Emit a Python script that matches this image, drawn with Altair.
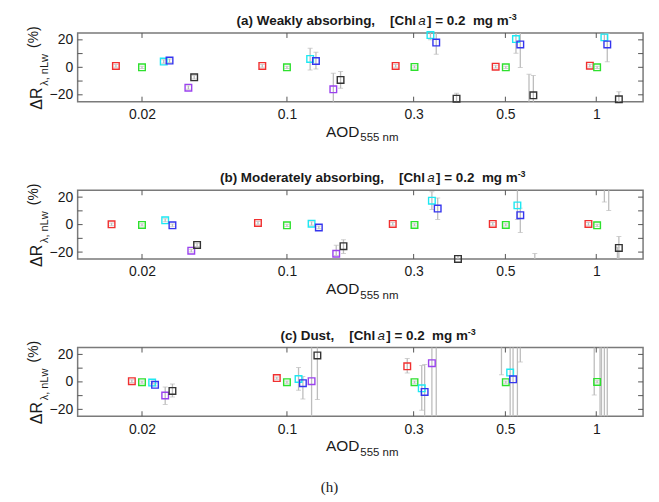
import altair as alt
import pandas as pd

# ---------------- data ----------------
SERIES = ["red", "green", "cyan", "blue", "purple", "black"]
COLORS = ["#f03030", "#2ee02e", "#1ee8f2", "#3535ee", "#9a42ee", "#333333"]

TICK_POS = [0.0, 1.0, 1.874, 2.507, 3.134]          # axis units of the category ticks
TICK_LABELS = ["0.02", "0.1", "0.3", "0.5", "1"]
Y_TICKS = [-20, -10, 0, 10, 20]
X_DOMAIN = [-0.444, 3.457]
Y_DOMAIN = [-25, 25]

# panel (a) weakly absorbing ; rows = series, columns = AOD groups
A_X = [[-0.18, 0.83, 1.75, 2.44, 3.09],
       [0.00, 1.00, 1.88, 2.51, 3.14],
       [0.15, 1.16, 1.99, 2.58, 3.19],
       [0.19, 1.20, 2.03, 2.61, 3.21],
       [0.32, 1.32, None, 2.67, None],
       [0.36, 1.37, 2.17, 2.70, 3.29]]
A_Y = [[1.0, 1.0, 1.0, 0.5, 1.2],
       [0.0, 0.0, 0.3, 0.0, 0.0],
       [4.2, 6.1, 23.5, 20.6, 21.8],
       [4.9, 4.6, 18.0, 16.7, 16.7],
       [-14.8, -16.0, None, -32.0, None],
       [-7.3, -9.2, -22.8, -20.4, -23.3]]
A_LO = [[0.0, 0.0, 0.0, -0.5, 0.2],
        [-0.8, -0.8, -0.5, -0.8, -0.8],
        [3.0, -1.9, 20.0, 10.2, 19.5],
        [3.5, -1.2, 9.5, -0.2, 4.1],
        [-16.0, -30.0, None, -40.0, None],
        [-8.5, -15.3, -26.0, -30.0, -30.0]]
A_HI = [[2.0, 2.0, 2.0, 1.5, 2.2],
        [0.8, 0.8, 1.1, 0.8, 0.8],
        [5.5, 13.8, 27.0, 27.0, 24.0],
        [6.0, 10.9, 27.0, 27.0, 24.7],
        [-13.5, -4.4, None, -5.1, None],
        [-6.0, -3.1, -18.9, -6.0, -17.7]]

# panel (b) moderately absorbing
B_X = [[-0.21, 0.80, 1.73, 2.42, 3.08],
       [0.00, 1.00, 1.88, 2.51, 3.14],
       [0.16, 1.17, 2.00, 2.59, 3.19],
       [0.21, 1.22, 2.04, 2.61, 3.22],
       [0.34, 1.34, None, 2.71, 3.28],
       [0.38, 1.39, 2.18, None, 3.29]]
B_Y = [[0.2, 1.2, 0.5, 0.5, 0.5],
       [-0.2, -0.5, -0.2, -0.2, -0.5],
       [3.1, 0.7, 17.4, 14.0, 32.0],
       [-0.5, -2.1, 11.7, 6.9, 30.0],
       [-19.0, -21.2, None, -32.0, -35.0],
       [-14.8, -15.7, -25.0, None, -17.0]]
B_LO = [[-0.8, 0.2, -0.5, -0.5, -0.5],
        [-1.0, -1.3, -1.0, -1.0, -1.3],
        [2.0, -0.5, 11.0, 3.8, 16.4],
        [-1.5, -3.0, 3.8, -5.7, 10.2],
        [-20.0, -22.5, None, -40.0, -40.0],
        [-16.0, -21.0, -27.0, None, -40.0]]
B_HI = [[1.2, 2.2, 1.5, 1.5, 1.5],
        [0.6, 0.3, 0.6, 0.6, 0.3],
        [4.2, 2.0, 24.0, 28.0, 40.0],
        [0.5, -1.0, 19.3, 12.0, 40.0],
        [-18.0, -15.0, None, -21.0, -16.4],
        [-13.5, -11.0, -22.4, None, -8.6]]

# panel (c) dust
C_X = [[-0.07, 0.93, 1.83, 2.48, 3.12],
       [0.00, 1.00, 1.88, 2.51, 3.14],
       [0.07, 1.08, 1.93, 2.54, 3.16],
       [0.09, 1.11, 1.95, 2.56, 3.17],
       [0.16, 1.17, 2.00, 2.59, 3.19],
       [0.21, 1.21, 2.03, 2.61, 3.21]]
C_Y = [[0.5, 2.8, 11.3, 32.0, 32.0],
       [-0.2, -0.2, -0.2, -0.2, 0.0],
       [-0.5, 2.1, -4.7, 6.8, 40.0],
       [-2.1, -0.9, -7.3, 1.9, 35.0],
       [-9.9, 0.5, 13.6, 40.0, 40.0],
       [-6.6, 19.3, 40.0, 40.0, 40.0]]
C_LO = [[-0.5, 2.0, 6.4, 5.2, -9.6],
        [-1.0, -1.0, -1.0, -1.0, -0.8],
        [-1.5, -6.1, -20.7, -40.0, -60.0],
        [-3.0, -12.5, -30.0, -40.0, -40.0],
        [-16.5, -40.0, -40.0, -40.0, -40.0],
        [-11.0, -12.9, -40.0, 14.4, -40.0]]
C_HI = [[1.5, 3.5, 17.0, 45.0, 45.0],
        [0.6, 0.6, 0.6, 0.6, 0.8],
        [0.5, 10.4, 12.0, 40.0, 60.0],
        [-1.0, 4.0, 12.7, 40.0, 60.0],
        [-3.8, 40.0, 40.0, 60.0, 60.0],
        [-1.5, 40.0, 60.0, 60.0, 60.0]]

TITLE_LEFT = ["(a) Weakly absorbing,\u00a0\u00a0\u00a0\u00a0[Chl",
              "(b) Moderately absorbing,\u00a0\u00a0\u00a0\u00a0[Chl",
              "(c) Dust,\u00a0\u00a0\u00a0\u00a0[Chl"]
TITLE_ITALIC = "a"
TITLE_RIGHT = "] = 0.2\u00a0 mg m"
TITLE_SUP = "-3"
TITLE_A_POS = [346, 355, 305]
Y_TITLE = ["\u0394R", "\u03bb, nLw", "(%)"]
X_TITLE = ["AOD", "555 nm"]
FIG_LABEL = "(h)"

# ---------------- styling ----------------
W, H = 568, 69
FONT = "Liberation Sans"
ERR = "#bdbdbd"
TXT = "#1a1a1a"


def frame(X, Y, LO, HI):
    rows = []
    for s, xs_, ys_, los, his in zip(SERIES, X, Y, LO, HI):
        for x, y, lo, hi in zip(xs_, ys_, los, his):
            if x is None:
                continue
            rows.append(dict(series=s, x=x, y=y, lo=lo, hi=hi))
    return pd.DataFrame(rows)


label_expr = " : ".join(
    f"abs(datum.value - {p}) < 0.01 ? '{l}'" for p, l in zip(TICK_POS, TICK_LABELS)
) + " : ''"

xs = alt.Scale(domain=X_DOMAIN, nice=False, zero=False)
ys = alt.Scale(domain=Y_DOMAIN, nice=False, zero=False)
xax = alt.Axis(values=TICK_POS, labelExpr=label_expr, ticks=False, domain=False,
               grid=False, title=None, labelFontSize=14, labelPadding=6,
               labelFont=FONT, labelColor=TXT, labelFlush=False)
yax = alt.Axis(values=Y_TICKS, ticks=False, domain=False, grid=False, title=None,
               labelFontSize=14, labelPadding=5, labelFont=FONT, labelColor=TXT)


def text(t, x, y, **kw):
    return alt.Chart(pd.DataFrame({"t": [t]})).mark_text(**kw).encode(
        x=alt.value(x), y=alt.value(y), text="t:N")


def panel(i, df):
    base = alt.Chart(df)
    X = alt.X("x:Q", scale=xs, axis=xax)
    bars = base.transform_filter("isValid(datum.lo)").mark_rule(
        color=ERR, strokeWidth=1.3, clip=True).encode(
        x=X, y=alt.Y("lo:Q", scale=ys, axis=yax), y2="hi:Q")
    cap_lo = base.transform_filter("isValid(datum.lo)").mark_tick(
        color=ERR, orient="horizontal", size=5, thickness=1, clip=True).encode(
        x=X, y=alt.Y("lo:Q", scale=ys, axis=yax))
    cap_hi = base.transform_filter("isValid(datum.hi)").mark_tick(
        color=ERR, orient="horizontal", size=5, thickness=1, clip=True).encode(
        x=X, y=alt.Y("hi:Q", scale=ys, axis=yax))
    pts = base.transform_filter(
        "isValid(datum.y) && datum.y >= -25.5 && datum.y <= 25.5").mark_point(
        shape="square", filled=False, size=44, strokeWidth=1.4, opacity=1).encode(
        x=X, y=alt.Y("y:Q", scale=ys, axis=yax),
        color=alt.Color("series:N", scale=alt.Scale(domain=SERIES, range=COLORS),
                        legend=None))

    ytk = alt.Chart(pd.DataFrame({"v": Y_TICKS}))
    xtk = alt.Chart(pd.DataFrame({"v": TICK_POS}))
    tk = dict(color="#555555", strokeWidth=1)
    t_left = ytk.mark_rule(**tk).encode(x=alt.value(0), x2=alt.value(5),
                                        y=alt.Y("v:Q", scale=ys, axis=yax))
    t_right = ytk.mark_rule(**tk).encode(x=alt.value(W - 5), x2=alt.value(W),
                                         y=alt.Y("v:Q", scale=ys, axis=yax))
    t_top = xtk.mark_rule(**tk).encode(x=alt.X("v:Q", scale=xs, axis=xax),
                                       y=alt.value(0), y2=alt.value(5))
    t_bot = xtk.mark_rule(**tk).encode(x=alt.X("v:Q", scale=xs, axis=xax),
                                       y=alt.value(H - 5), y2=alt.value(H))

    ax = TITLE_A_POS[i]
    title = [
        text(TITLE_LEFT[i], ax - 6, -12, align="right", baseline="middle",
             font=FONT, fontSize=13.5, fontWeight="bold", color=TXT),
        text(TITLE_ITALIC, ax, -12, align="center", baseline="middle",
             font=FONT, fontSize=13.5, fontStyle="italic", color=TXT),
        text(TITLE_RIGHT, ax + 5, -12, align="left", baseline="middle",
             font=FONT, fontSize=13.5, fontWeight="bold", color=TXT),
        text(TITLE_SUP, ax + 5 + 82, -16, align="left", baseline="middle",
             font=FONT, fontSize=9, fontWeight="bold", color=TXT),
    ]
    ytitle = [
        text(Y_TITLE[0], -41, 77, align="left", baseline="middle", angle=270,
             font=FONT, fontSize=16, color=TXT),
        text(Y_TITLE[1], -33, 53, align="left", baseline="middle", angle=270,
             font=FONT, fontSize=11, color=TXT),
        text(Y_TITLE[2], -44, 15, align="left", baseline="middle", angle=270,
             font=FONT, fontSize=14, color=TXT),
    ]
    xtitle = [
        text(X_TITLE[0], 283, 104, align="right", baseline="alphabetic",
             font=FONT, fontSize=15.5, color=TXT),
        text(X_TITLE[1], 284, 109, align="left", baseline="alphabetic",
             font=FONT, fontSize=11.5, color=TXT),
    ]
    layers = [bars, cap_lo, cap_hi, pts, t_left, t_right, t_top, t_bot] + title + ytitle + xtitle
    if i == 2:
        layers.append(text(FIG_LABEL, 253, 140, align="center", baseline="middle",
                           font="Liberation Serif", fontSize=15, color=TXT))
    return alt.layer(*layers).properties(width=W, height=H)


panels = [panel(0, frame(A_X, A_Y, A_LO, A_HI)),
          panel(1, frame(B_X, B_Y, B_LO, B_HI)),
          panel(2, frame(C_X, C_Y, C_LO, C_HI))]

chart = alt.vconcat(*panels, spacing=89, bounds="flush").properties(
    padding={"left": 26, "top": 11, "right": 14, "bottom": 0},
    background="white",
).configure_view(stroke="#7a7a7a", strokeWidth=1.5)

chart.save("out.html", embed_options={"renderer": "svg", "actions": False})
